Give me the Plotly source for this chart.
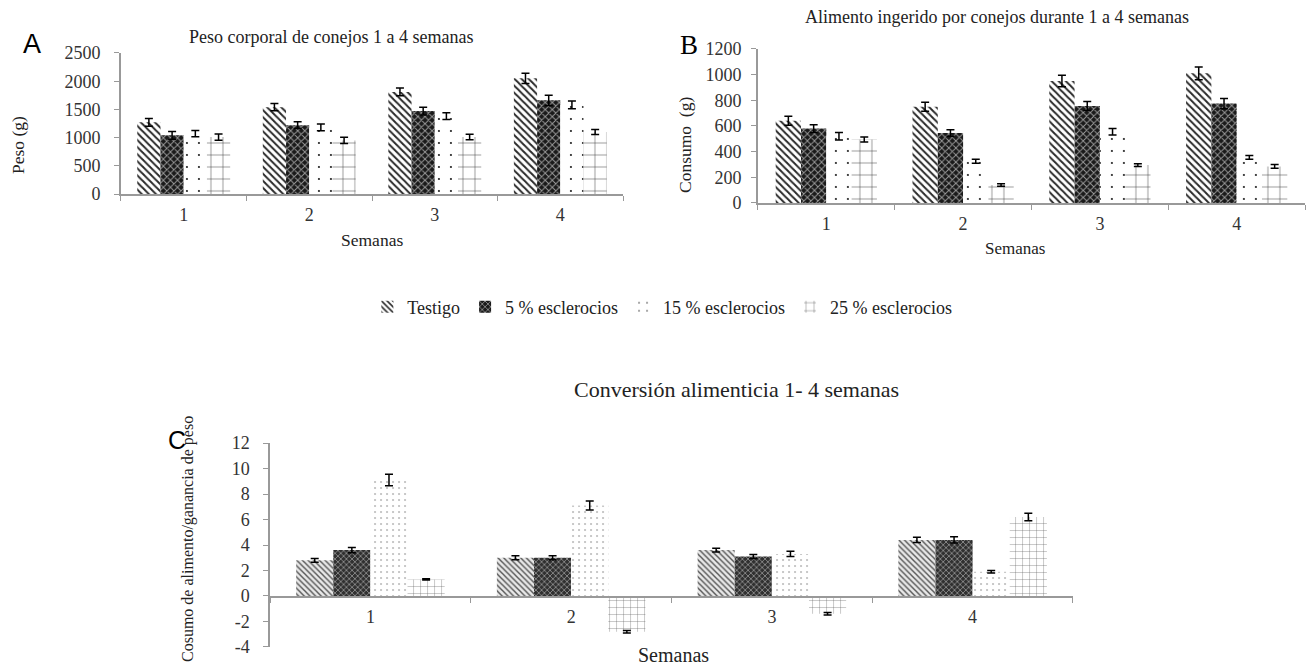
import plotly.graph_objects as go

weeks = ["1", "2", "3", "4"]
series_names = ["Testigo", "5 % esclerocios", "15 % esclerocios", "25 % esclerocios"]

# Panel A: Peso corporal (g)
peso = {
    "Testigo": [1270, 1540, 1810, 2050],
    "5 % esclerocios": [1040, 1220, 1470, 1660],
    "15 % esclerocios": [1070, 1180, 1380, 1580],
    "25 % esclerocios": [1010, 950, 1010, 1100],
}
peso_err = {
    "Testigo": [70, 65, 70, 90],
    "5 % esclerocios": [70, 60, 70, 90],
    "15 % esclerocios": [55, 60, 60, 70],
    "25 % esclerocios": [55, 55, 50, 45],
}

# Panel B: Consumo (g)
consumo = {
    "Testigo": [640, 750, 950, 1010],
    "5 % esclerocios": [580, 545, 755, 775],
    "15 % esclerocios": [520, 325, 555, 355],
    "25 % esclerocios": [495, 140, 295, 285],
}
consumo_err = {
    "Testigo": [35, 35, 45, 50],
    "5 % esclerocios": [30, 25, 35, 40],
    "15 % esclerocios": [30, 15, 25, 15],
    "25 % esclerocios": [20, 10, 10, 15],
}

# Panel C: Conversión alimenticia
conversion = {
    "Testigo": [2.8, 3.0, 3.6, 4.4],
    "5 % esclerocios": [3.6, 3.0, 3.1, 4.4],
    "15 % esclerocios": [9.1, 7.1, 3.3, 1.9],
    "25 % esclerocios": [1.3, -2.8, -1.4, 6.2],
}
conversion_err = {
    "Testigo": [0.15, 0.15, 0.15, 0.2],
    "5 % esclerocios": [0.2, 0.15, 0.15, 0.25],
    "15 % esclerocios": [0.45, 0.35, 0.2, 0.1],
    "25 % esclerocios": [0.05, 0.1, 0.1, 0.3],
}
conv_ticks = [-4, -2, 0, 2, 4, 6, 8, 10, 12]
conv_ticktext = ["-4", "-2", "0", "2", "4", "6", "8", "10", "12"]

FONT = "Liberation Serif, Times New Roman, Times, serif"

patterns_top = {
    "Testigo": dict(shape="\\", size=5, solidity=0.4, fgcolor="#2a2a2a", bgcolor="white"),
    "5 % esclerocios": dict(shape="x", size=5, solidity=0.35, fgcolor="#9a9a9a", bgcolor="#1a1a1a"),
    "15 % esclerocios": dict(shape=".", size=12, solidity=0.02, fgcolor="#000000", bgcolor="white"),
    "25 % esclerocios": dict(shape="+", size=12, solidity=0.08, fgcolor="#333333", bgcolor="white"),
}
patterns_c = {
    "Testigo": dict(shape="\\", size=4, solidity=0.35, fgcolor="#555555", bgcolor="#e8e8e8"),
    "5 % esclerocios": dict(shape="x", size=4, solidity=0.35, fgcolor="#999999", bgcolor="#303030"),
    "15 % esclerocios": dict(shape=".", size=6, solidity=0.04, fgcolor="#666666", bgcolor="white"),
    "25 % esclerocios": dict(shape="+", size=7, solidity=0.1, fgcolor="#666666", bgcolor="white"),
}

fig = go.Figure()

def add_panel(data, err, xa, ya, pats, showlegend):
    for name in series_names:
        fig.add_trace(go.Bar(
            x=weeks, y=data[name], name=name,
            xaxis=xa, yaxis=ya, showlegend=showlegend,
            marker=dict(color="white", pattern=pats[name], line=dict(width=0)),
            error_y=dict(type="data", array=err[name], color="black", thickness=1.5, width=4),
        ))

add_panel(peso, peso_err, "x", "y", patterns_top, True)
add_panel(consumo, consumo_err, "x2", "y2", patterns_top, False)
add_panel(conversion, conversion_err, "x3", "y3", patterns_c, False)

axis_line = "#999999"
tickfont = dict(family=FONT, size=18, color="#333333")

common_x = dict(type="category", showline=True, linecolor=axis_line, linewidth=1.5,
                ticks="outside", tickson="boundaries", ticklen=5, tickcolor=axis_line,
                showgrid=False, tickfont=tickfont, zeroline=False, ticklabelstandoff=4,
                automargin=False)
common_y = dict(showline=True, linecolor=axis_line, linewidth=1.5, ticks="outside",
                ticklen=5, tickcolor=axis_line, showgrid=False, tickfont=tickfont, zeroline=False,
                automargin=False)

fig.update_layout(
    template="none",
    width=1309, height=669,
    margin=dict(l=0, r=0, t=0, b=0, autoexpand=False),
    paper_bgcolor="white", plot_bgcolor="white",
    barmode="group", bargap=0.26, bargroupgap=0,
    font=dict(family=FONT, color="#222222"),
    xaxis=dict(domain=[0.0924, 0.476], anchor="y", **common_x),
    yaxis=dict(domain=[0.710, 0.9208], anchor="x", range=[0, 2500], dtick=500,
               ticklabelstandoff=10, **common_y),
    xaxis2=dict(domain=[0.579, 0.997], anchor="y2", **common_x),
    yaxis2=dict(domain=[0.6966, 0.9268], anchor="x2", range=[0, 1200], dtick=200,
                ticklabelstandoff=6, **common_y),
    xaxis3=dict(domain=[0.2063, 0.8197], anchor="free", position=0.1076, **common_x),
    yaxis3=dict(domain=[0.0329, 0.3378], anchor="x3", range=[-4, 12],
                tickvals=conv_ticks, ticktext=conv_ticktext, ticklabelstandoff=10, **common_y),
    legend=dict(orientation="h", x=0.506, xanchor="center", y=0.541, yanchor="middle",
                font=dict(family=FONT, size=18, color="#222222"),
                itemwidth=30, tracegroupgap=0, bgcolor="rgba(0,0,0,0)"),
)

ann = []
def text(x, y, t, size, angle=0, color="#222222", family=FONT):
    ann.append(dict(x=x / 1309, y=1 - y / 669, xref="paper", yref="paper", text=t,
                    showarrow=False, textangle=angle, xanchor="center", yanchor="middle",
                    font=dict(family=family, size=size, color=color)))

text(331, 37, "Peso corporal de conejos 1 a 4 semanas", 18)
text(997, 17, "Alimento ingerido por conejos durante 1 a 4 semanas", 18)
text(736, 389, "Conversión alimenticia 1- 4 semanas", 22)
text(372, 240, "Semanas", 17.5)
text(1015, 248, "Semanas", 17)
text(673, 655, "Semanas", 20)
text(18, 145, "Peso (g)", 17.5, angle=-90)
text(685, 145, "Consumo  (g)", 17.5, angle=-90)
text(188, 539, "Cosumo de alimento/ganancia de peso", 16, angle=-90)
text(32, 44, "A", 27, family="Liberation Sans, Arial, sans-serif", color="black")
text(689, 45, "B", 27, color="black")
text(177, 440, "C", 25, family="Liberation Sans, Arial, sans-serif", color="black")

fig.update_layout(annotations=ann)
fig.write_html(
    "out.html",
    config={"displayModeBar": False},
    post_script=(
        "document.documentElement.style.margin='0';"
        "document.body.style.margin='0';document.body.style.overflow='hidden';"
        "var d=document.getElementById('{plot_id}');"
        "d.style.position='fixed';d.style.top='0px';d.style.left='0px';"
    ),
)
